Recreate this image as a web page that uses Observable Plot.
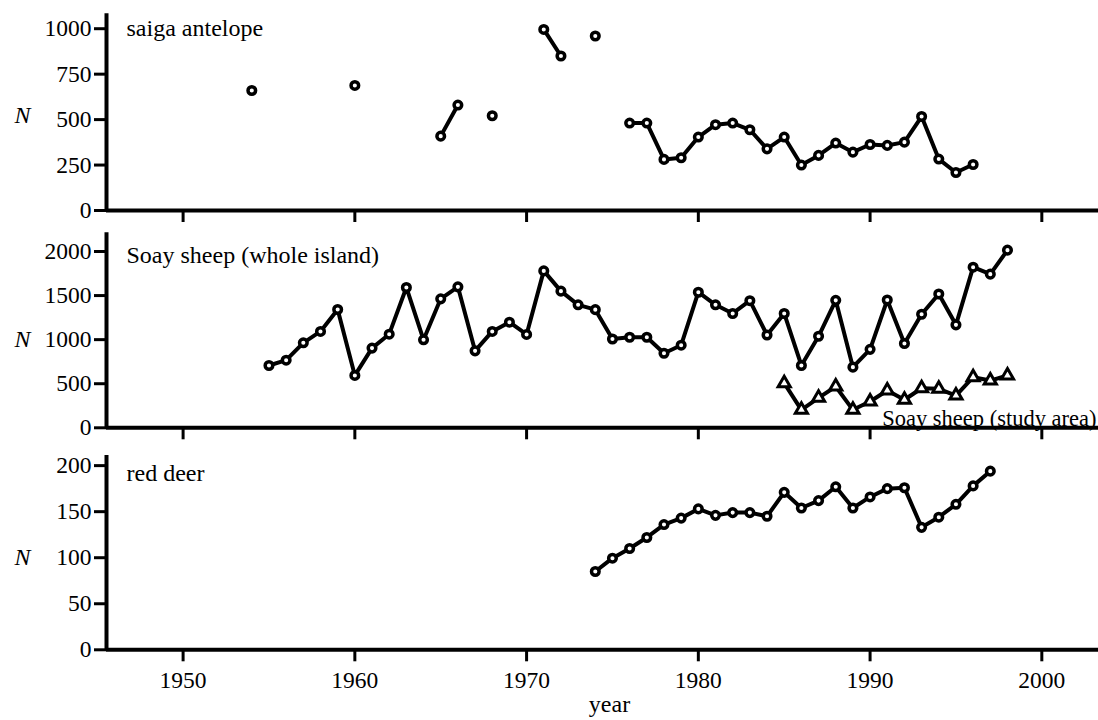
<!DOCTYPE html>
<html><head><meta charset="utf-8">
<script src="https://cdn.jsdelivr.net/npm/d3@7"></script>
<script src="https://cdn.jsdelivr.net/npm/@observablehq/plot@0.6"></script>
<style>
body{margin:0;background:#fff;}
#chart svg{display:block;}
#chart svg, #chart svg text{font-family:'Liberation Serif','Times New Roman',serif !important;}
g[aria-label$="axis tick"] path{stroke-width:3px;}
</style></head><body><div id="chart"></div>
<script>
// ---- data ----
const xTicks = [1950, 1960, 1970, 1980, 1990, 2000];

const saigaYears = [1954, 1960, 1965, 1966, 1968, 1971, 1972, 1974,
  1976, 1977, 1978, 1979, 1980, 1981, 1982, 1983, 1984, 1985, 1986, 1987,
  1988, 1989, 1990, 1991, 1992, 1993, 1994, 1995, 1996];
const saigaN = [660, 688, 409, 580, 521, 996, 850, 960,
  481, 481, 281, 290, 404, 472, 481, 444, 339, 404, 250, 303,
  371, 321, 363, 358, 376, 517, 283, 209, 253];
const saigaTicks = [0, 250, 500, 750, 1000];

const soayYears = [1955, 1956, 1957, 1958, 1959, 1960, 1961, 1962, 1963, 1964,
  1965, 1966, 1967, 1968, 1969, 1970, 1971, 1972, 1973, 1974, 1975, 1976,
  1977, 1978, 1979, 1980, 1981, 1982, 1983, 1984, 1985, 1986, 1987, 1988,
  1989, 1990, 1991, 1992, 1993, 1994, 1995, 1996, 1997, 1998];
const soayN = [707, 767, 964, 1093, 1342, 594, 904, 1062, 1592, 998,
  1463, 1599, 873, 1093, 1198, 1059, 1780, 1550, 1395, 1340, 1007, 1027,
  1027, 846, 937, 1538, 1395, 1297, 1442, 1053, 1297, 707, 1038, 1446,
  688, 890, 1450, 956, 1288, 1518, 1168, 1822, 1743, 2015];
const studyYears = [1985, 1986, 1987, 1988, 1989, 1990, 1991, 1992, 1993,
  1994, 1995, 1996, 1997, 1998];
const studyN = [506, 204, 340, 468, 204, 298, 423, 318, 449, 442, 366, 574, 536, 593];
const soayTicks = [0, 500, 1000, 1500, 2000];

const deerYears = [1974, 1975, 1976, 1977, 1978, 1979, 1980, 1981, 1982, 1983,
  1984, 1985, 1986, 1987, 1988, 1989, 1990, 1991, 1992, 1993, 1994, 1995, 1996, 1997];
const deerN = [85, 99.5, 110, 122, 136, 143, 153, 146, 149, 149,
  145, 171, 154, 162, 177, 154, 166, 175, 176, 133, 144, 158, 178, 194];
const deerTicks = [0, 50, 100, 150, 200];

// ---- helpers ----
const X0 = 1945.54, X1 = 2003.3;
const FONT = "'Liberation Serif','Times New Roman',serif";

function rows(years, vals) {
  let seg = 0;
  return years.map((yr, i) => {
    if (i > 0 && yr - years[i - 1] > 1) seg++;
    return {year: yr, n: vals[i], seg};
  });
}

function panel(o) {
  const marks = [
    Plot.ruleY([0], {x1: X0, x2: X1, strokeWidth: 4}),
    Plot.ruleX([X0], {y1: 0, y2: o.yMax, strokeWidth: 4}),
    Plot.axisY({ticks: o.yTicks, tickSize: 12, tickPadding: 3, fontSize: 23.5, label: null, tickFormat: d => String(d)}),
    Plot.axisX({ticks: xTicks, tickSize: 12, tickPadding: 10, fontSize: 23.5, label: null,
      tickFormat: o.bottom ? (d => String(d)) : (() => "")})
  ];
  for (const s of o.series) {
    marks.push(Plot.line(s.data, {x: "year", y: "n", z: "seg", stroke: "black", strokeWidth: 4}));
    marks.push(Plot.dot(s.data, {x: "year", y: "n", symbol: s.symbol, r: s.r, fill: "white", stroke: "black", strokeWidth: s.sw}));
  }
  marks.push(Plot.text([o.title], {text: d => d, frameAnchor: "top-left", textAnchor: "start", lineAnchor: "top", dx: 20, dy: o.titleDy, fontSize: 24}));
  marks.push(Plot.text([{x: X0, y: o.nY}], {x: "x", y: "y", text: () => "N", dx: -84, fontStyle: "italic", fontSize: 24}));
  if (o.extra) marks.push(...o.extra);
  return Plot.plot({
    width: 1098, height: o.height,
    marginLeft: 106, marginRight: 0, marginTop: o.mt, marginBottom: o.mb,
    x: {domain: [X0, X1]},
    y: {domain: [0, o.yMax]},
    style: {fontFamily: FONT, fontSize: "23px", color: "black", background: "white", overflow: "visible"},
    marks
  });
}

const chart = document.getElementById("chart");
chart.append(panel({
  series: [{data: rows(saigaYears, saigaN), symbol: "circle", r: 3.8, sw: 3.5}],
  yMax: 1082, yTicks: saigaTicks, height: 225, mt: 13.3, mb: 15,
  title: "saiga antelope", titleDy: 5, nY: 523
}));
chart.append(panel({
  series: [
    {data: rows(soayYears, soayN), symbol: "circle", r: 3.8, sw: 3.5},
    {data: rows(studyYears, studyN), symbol: "triangle", r: 4.5, sw: 3}
  ],
  yMax: 2212, yTicks: soayTicks, height: 215, mt: 7.3, mb: 12.7,
  title: "Soay sheep (whole island)", titleDy: 13.3, nY: 1000,
  extra: [Plot.text(["Soay sheep (study area)"], {text: d => d, frameAnchor: "bottom-right", textAnchor: "end", lineAnchor: "middle", dx: -2, dy: -9, fontSize: 22.5})]
}));
chart.append(panel({
  series: [{data: rows(deerYears, deerN), symbol: "circle", r: 3.8, sw: 3.5}],
  yMax: 211, yTicks: deerTicks, height: 280, mt: 15, mb: 70.7,
  title: "red deer", titleDy: 8.3, nY: 100, bottom: true,
  extra: [Plot.text(["year"], {text: d => d, frameAnchor: "bottom", lineAnchor: "middle", dx: 7, dy: 55, fontSize: 24})]
}));
</script></body></html>
